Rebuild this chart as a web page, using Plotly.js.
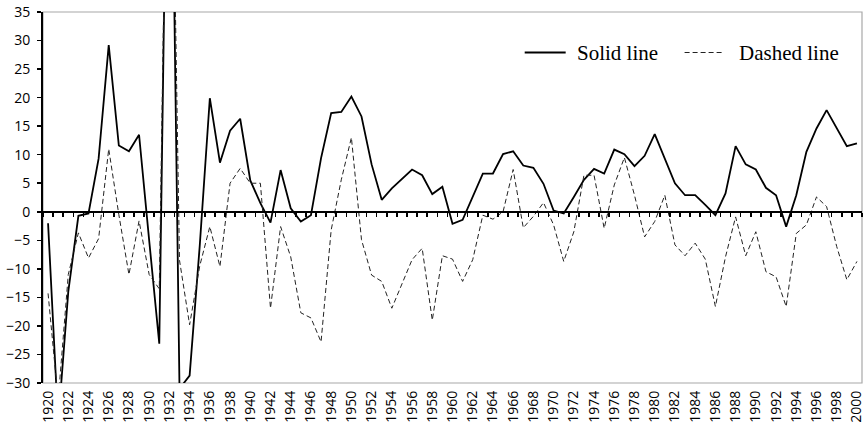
<!DOCTYPE html>
<html>
<head>
<meta charset="utf-8">
<script src="https://cdn.plot.ly/plotly-3.0.1.min.js"></script>
<style>
  html, body { margin: 0; padding: 0; background: #fff; }
  #chart { width: 867px; height: 428px; }
</style>
</head>
<body>
<div id="chart"></div>
<script>
const years = [1920,1921,1922,1923,1924,1925,1926,1927,1928,1929,
  1930,1931,1932,1933,1934,1935,1936,1937,1938,1939,
  1940,1941,1942,1943,1944,1945,1946,1947,1948,1949,
  1950,1951,1952,1953,1954,1955,1956,1957,1958,1959,
  1960,1961,1962,1963,1964,1965,1966,1967,1968,1969,
  1970,1971,1972,1973,1974,1975,1976,1977,1978,1979,
  1980,1981,1982,1983,1984,1985,1986,1987,1988,1989,
  1990,1991,1992,1993,1994,1995,1996,1997,1998,1999,2000];

const solidLine = [-2,-37,-14,-0.7,-0.3,9.3,29.2,11.6,10.6,13.5,
  -5,-23.1,100,-31,-28.7,-6,19.9,8.6,14.2,16.3,
  5.5,1.5,-1.9,7.3,0.6,-1.7,-0.6,9.4,17.3,17.5,
  20.2,16.7,8.3,2.1,4.1,5.8,7.4,6.4,3.1,4.4,
  -2.1,-1.4,2.6,6.7,6.7,10.1,10.6,8.1,7.7,4.9,
  0.2,-0.3,2.6,5.6,7.5,6.7,10.9,10.1,8.0,9.8,
  13.6,9.2,5.0,2.9,2.9,1.2,-0.6,3.2,11.5,8.3,
  7.4,4.2,2.9,-2.6,2.9,10.5,14.6,17.8,14.6,11.5,12.0];

const dashedLine = [-14.3,-33,-11,-3.7,-8.1,-4.7,11,-0.5,-11,-1.6,
  -11,-13.5,100,-8.5,-19.8,-9.5,-2.6,-9.6,5,7.6,
  5,5,-16.9,-2.6,-7.9,-17.7,-18.6,-22.8,-3.2,5.6,
  13.0,-4.9,-11.1,-12.2,-16.9,-12.5,-8.4,-6.4,-19,-7.7,
  -8.3,-12.2,-8.4,-0.6,-1.3,0,7.4,-2.8,-0.8,1.6,
  -2.3,-8.7,-3.5,6.4,6.4,-2.9,4.7,9.5,2.9,-4.4,
  -1.7,2.9,-5.8,-7.7,-5.5,-8.3,-16.6,-7.9,-0.9,-7.7,
  -3.5,-10.5,-11.4,-16.6,-3.8,-2.3,2.6,0.9,-6.1,-11.9,-8.7];

const yearTicks = [1920,1922,1924,1926,1928,1930,1932,1934,1936,1938,
  1940,1942,1944,1946,1948,1950,1952,1954,1956,1958,
  1960,1962,1964,1966,1968,1970,1972,1974,1976,1978,
  1980,1982,1984,1986,1988,1990,1992,1994,1996,1998,2000];
const yearTickText = yearTicks.map(String);

const yTicks = [-30,-25,-20,-15,-10,-5,0,5,10,15,20,25,30,35];

const seriesNames = ['Solid line', 'Dashed line'];

// category boundaries for the tick marks on the zero axis
const boundaries = years.map(y => y - 0.5).concat([years[years.length - 1] + 0.5]);

const xRange = [years[0] - 0.5, years[years.length - 1] + 0.5];
const yRange = [-30, 35];

const traces = [
  {
    x: years, y: solidLine, type: 'scatter', mode: 'lines', name: seriesNames[0],
    line: { color: '#000000', width: 1.8 }, xaxis: 'x', yaxis: 'y'
  },
  {
    x: years, y: dashedLine, type: 'scatter', mode: 'lines', name: seriesNames[1],
    line: { color: '#222222', width: 1, dash: '5px,3px' }, xaxis: 'x2', yaxis: 'y'
  }
];

// plot area in pixels: left 43, right 862.5, top 12, bottom 383
const L = 43, R = 862.5, T = 12, B = 383;
const px = v => (v - L) / (R - L);
const py = v => (B - v) / (B - T);

const tickFont = { family: 'Open Sans, sans-serif', size: 14, color: '#000' };
const legendFont = { family: 'Liberation Serif, Times New Roman, serif', size: 21, color: '#000' };

const layout = {
  width: 867, height: 428,
  margin: { l: L, r: 867 - R, t: T, b: 428 - B, pad: 0 },
  paper_bgcolor: '#ffffff', plot_bgcolor: '#ffffff',
  showlegend: false,
  xaxis: {
    range: xRange, tickmode: 'array', tickvals: yearTicks, ticktext: yearTickText,
    tickangle: -90, ticks: '', showgrid: false, zeroline: false,
    showline: false, tickfont: tickFont, ticklabelstandoff: 4
  },
  xaxis2: {
    overlaying: 'x', anchor: 'free', position: (0 - yRange[0]) / (yRange[1] - yRange[0]),
    range: xRange, tickmode: 'array', tickvals: boundaries, ticks: 'outside',
    ticklen: 4, tickwidth: 1.5, tickcolor: '#000', showticklabels: false,
    showgrid: false, zeroline: false, showline: true, linecolor: '#000', linewidth: 2
  },
  yaxis: {
    range: yRange, tickmode: 'array', tickvals: yTicks, ticks: 'outside',
    ticklen: 4, tickwidth: 1.5, tickcolor: '#000', showgrid: false, zeroline: false,
    showline: true, linecolor: '#000', linewidth: 2, tickfont: tickFont,
    ticklabelstandoff: 4
  },
  shapes: [
    { type: 'rect', xref: 'paper', yref: 'paper', x0: 0, x1: 1, y0: 0, y1: 1,
      line: { color: '#a8a8a8', width: 1.2 }, layer: 'below' },
    { type: 'line', xref: 'paper', yref: 'paper', x0: px(525), x1: px(566), y0: py(52.5), y1: py(52.5),
      line: { color: '#000', width: 1.8 } },
    { type: 'line', xref: 'paper', yref: 'paper', x0: px(685), x1: px(725), y0: py(52.5), y1: py(52.5),
      line: { color: '#222', width: 1, dash: '5px,3px' } }
  ],
  annotations: [
    { xref: 'paper', yref: 'paper', x: px(575), y: py(53), xanchor: 'left', yanchor: 'middle',
      text: seriesNames[0], showarrow: false, font: legendFont },
    { xref: 'paper', yref: 'paper', x: px(737), y: py(53), xanchor: 'left', yanchor: 'middle',
      text: seriesNames[1], showarrow: false, font: legendFont }
  ]
};

Plotly.newPlot('chart', traces, layout, { displayModeBar: false, staticPlot: true });
</script>
</body>
</html>
